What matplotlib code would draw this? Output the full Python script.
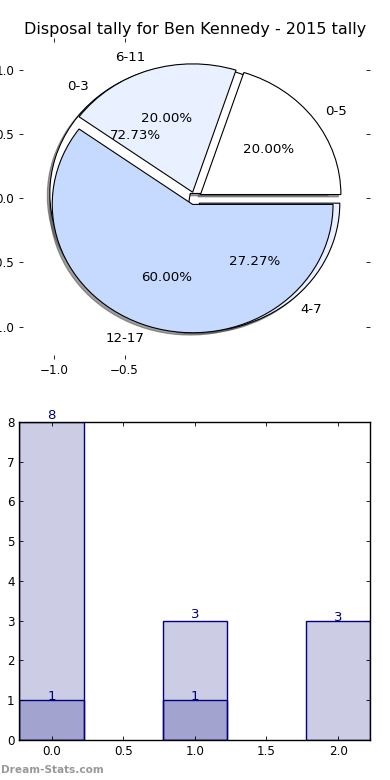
import matplotlib
matplotlib.use("Agg")
import matplotlib.pyplot as plt

title = "Disposal tally for Ben Kennedy - 2015 tally"

# Pie / bar series 1 (drawn underneath)
labels_a = ["0-3", "4-7"]
values_a = [8, 3]
# Pie / bar series 2 (drawn on top)
labels_b = ["0-5", "6-11", "12-17"]
values_b = [1, 1, 3]

pie_colors = ["#ffffff", "#e9f0ff", "#c6d9ff"]
pie_xticks = [-1.0, -0.5]
pie_yticks = [-1.0, -0.5, 0.0, 0.5, 1.0]
bar_xticks = [0.0, 0.5, 1.0, 1.5, 2.0]
bar_yticks = [0, 1, 2, 3, 4, 5, 6, 7, 8]

plt.rcParams["font.family"] = ["DejaVu Sans"]

fig = plt.figure(figsize=(3.9, 7.8), dpi=100)
fig.patch.set_facecolor("white")

# ---------------- Pie ----------------
axp = fig.add_axes([0.0495, 0.5401, 0.9, 0.4113])
wp = dict(edgecolor="black", linewidth=0.8)
tp = dict(fontsize=9.6)
sh = dict(ox=-0.013, oy=-0.013, facecolor="0.3", edgecolor="0.3", alpha=0.55)
axp.pie(values_a, labels=labels_a, colors=pie_colors[:len(values_a)],
        explode=[0.05] * len(values_a), autopct="%1.2f%%", shadow=sh,
        startangle=0, wedgeprops=wp, textprops=tp)
axp.pie(values_b, labels=labels_b, colors=pie_colors[:len(values_b)],
        explode=[0.05] * len(values_b), autopct="%1.2f%%", shadow=sh,
        startangle=0, wedgeprops=wp, textprops=tp)
axp.set_aspect("auto")
axp.set_xlim(-1.25, 1.25)
axp.set_ylim(-1.25, 1.25)
axp.set_frame_on(False)
axp.set_xticks(pie_xticks)
axp.set_yticks(pie_yticks)
axp.tick_params(direction="in", length=3, width=0.6, labelsize=8.6,
                top=True, right=True, bottom=True, left=True)
axp.set_title(title, fontsize=11.5, pad=3.0)

# ---------------- Bars ----------------
axb = fig.add_axes([0.0495, 0.05128, 0.9, 0.408])
x_a = list(range(len(values_a)))
x_b = list(range(len(values_b)))
fc = (0.0, 0.0, 0.5, 0.2)
axb.bar(x_a, values_a, width=0.45, color=fc, edgecolor="navy", linewidth=1.0)
axb.bar(x_b, values_b, width=0.45, color=fc, edgecolor="navy", linewidth=1.0)
for xi, v in zip(x_a, values_a):
    axb.text(xi, v, str(v), ha="center", va="bottom", color="navy", fontsize=9.6)
for xi, v in zip(x_b, values_b):
    axb.annotate(str(v), (xi, v), xytext=(0, 2.5), textcoords="offset points",
                 ha="center", va="center", color="navy", fontsize=9.6)
axb.set_xlim(-0.225, 2.225)
axb.set_ylim(0, 8)
axb.set_xticks(bar_xticks)
axb.set_xticklabels(["%.1f" % t for t in bar_xticks])
axb.set_yticks(bar_yticks)
axb.tick_params(direction="in", length=3, width=0.6, labelsize=8.6,
                top=True, right=True)
for s in axb.spines.values():
    s.set_linewidth(1.0)

fig.text(0.002, 0.006, "Dream-Stats.com", color="#999999", fontsize=7.6,
         fontweight="bold", ha="left", va="bottom")

fig.savefig("out.png", dpi=100, facecolor="white")
